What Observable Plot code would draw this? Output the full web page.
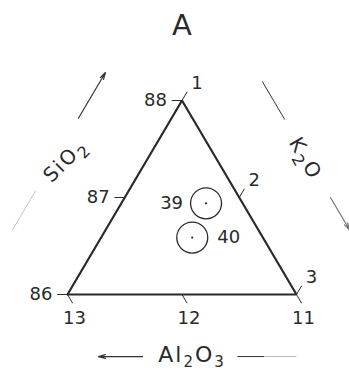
<!DOCTYPE html>
<html><head><meta charset="utf-8">
<script src="https://cdn.jsdelivr.net/npm/d3@7"></script>
<script src="https://cdn.jsdelivr.net/npm/@observablehq/plot@0.6"></script>
<style>
body{margin:0;background:#fff;}
#chart svg{display:block;}
</style></head><body><div id="chart"></div>
<script>
// ---- data ----
const title = "A";
const samples = ["39", "40"];
const sio2 = [86.94, 86.59];
const k2o = [1.74, 1.80];
const al2o3 = [11.32, 11.62];
const sio2Ticks = [86, 87, 88];
const k2oTicks = [1, 2, 3];
const al2o3Ticks = [11, 12, 13];
const sio2Range = [86, 88];
const k2oRange = [1, 3];
const al2o3Range = [11, 13];
const axisNames = {si: "SiO2", k: "K2O", al: "Al2O3"};

// ---- ternary helpers ----
const H = Math.sqrt(3) / 2;
function xy(si, k, al) {
  let a = (si - sio2Range[0]) / (sio2Range[1] - sio2Range[0]);
  let b = (k - k2oRange[0]) / (k2oRange[1] - k2oRange[0]);
  let c = (al - al2o3Range[0]) / (al2o3Range[1] - al2o3Range[0]);
  const s = a + b + c; a /= s; b /= s; c /= s;
  return [0.5 * a + b, H * a];
}
const BL = xy(sio2Range[0], k2oRange[0], al2o3Range[1]);
const TOP = xy(sio2Range[1], k2oRange[0], al2o3Range[0]);
const BR = xy(sio2Range[0], k2oRange[1], al2o3Range[0]);
function edge(p0, p1, outward) {
  const L = Math.hypot(p1[0]-p0[0], p1[1]-p0[1]);
  const u = [(p1[0]-p0[0])/L, (p1[1]-p0[1])/L];
  const n = outward ? [-u[1], u[0]] : [u[1], -u[0]];
  return (t, d) => [p0[0] + t*L*u[0] + d*n[0], p0[1] + t*L*u[1] + d*n[1]];
}
const leftEdge = edge(BL, TOP, true);
const rightEdge = edge(TOP, BR, true);
const bottomEdge = edge(BL, BR, false);

const points = samples.map((s, i) => {
  const [x, y] = xy(sio2[i], k2o[i], al2o3[i]);
  return {name: s, x, y};
});

const TL = 0.045;
const ticks = [
  ...sio2Ticks.map(v => { const p = xy(v, k2oRange[0], 100 - v - k2oRange[0]);
    return {axis: "si", v, x1: p[0], y1: p[1], x2: p[0] - TL, y2: p[1]}; }),
  ...k2oTicks.map(v => { const p = xy(100 - v - al2o3Range[0], v, al2o3Range[0]);
    return {axis: "k", v, x1: p[0], y1: p[1], x2: p[0] + TL*0.5, y2: p[1] + TL*H}; }),
  ...al2o3Ticks.map(v => { const p = xy(sio2Range[0], 100 - v - sio2Range[0], v);
    return {axis: "al", v, x1: p[0], y1: p[1], x2: p[0] + TL*0.5, y2: p[1] - TL*H}; })
];
const tickStyle = {si: {dx: -15, dy: 0, anchor: "end"}, k: {dx: 15, dy: -17, anchor: "middle"}, al: {dx: 7, dy: 24, anchor: "middle"}};

const seg = (f, t0, t1, d) => { const a = f(t0, d), b = f(t1, d); return {x1: a[0], y1: a[1], x2: b[0], y2: b[1]}; };
const plainLines = [
  {...seg(leftEdge, 0.128, 0.332, 0.352), c: "#c4c4c4"},
  {...seg(rightEdge, 0.102, 0.298, 0.346), c: "#333"},
  {...seg(bottomEdge, 0.742, 0.86, 0.277), c: "#333"},
  {...seg(bottomEdge, 0.86, 1.0, 0.277), c: "#bbb"}
];
const arrows = [
  {...seg(leftEdge, 0.705, 0.941, 0.352), c: "#333"},
  {...seg(rightEdge, 0.699, 0.866, 0.345), c: "#777"},
  {...seg(bottomEdge, 0.328, 0.135, 0.277), c: "#333"}
];
const siL = leftEdge(0.513, 0.307), kL = rightEdge(0.494, 0.337), alL = bottomEdge(0.544, 0.272);
const labelSide = {"39": {dx: -23, anchor: "end"}, "40": {dx: 25, anchor: "start"}};
const ink = "#2a2a2a";
const font = "DejaVu Sans";

const plot = Plot.plot({
  width: 349, height: 373,
  marginLeft: 67, marginRight: 53, marginTop: 100, marginBottom: 79,
  x: {domain: [0, 1], axis: null},
  y: {domain: [0, H], axis: null},
  style: {fontFamily: font, background: "#fff", color: ink},
  marks: [
    Plot.line([BL, TOP, BR, BL], {x: d => d[0], y: d => d[1], stroke: ink, strokeWidth: 2.2, strokeLinejoin: "miter"}),
    Plot.link(ticks, {x1: "x1", y1: "y1", x2: "x2", y2: "y2", stroke: ink, strokeWidth: 1}),
    ...["si", "k", "al"].map(a => Plot.text(ticks.filter(t => t.axis === a), {
      x: "x1", y: "y1", text: d => String(d.v), dx: tickStyle[a].dx, dy: tickStyle[a].dy,
      textAnchor: tickStyle[a].anchor, fontSize: 18, fill: ink})),
    Plot.dot(points, {x: "x", y: "y", r: 15.5, stroke: ink, strokeWidth: 1.3, fill: "none"}),
    Plot.dot(points, {x: "x", y: "y", r: 1.1, fill: ink}),
    ...samples.map(s => Plot.text(points.filter(p => p.name === s), {
      x: "x", y: "y", text: "name", dx: labelSide[s].dx, textAnchor: labelSide[s].anchor, fontSize: 18, fill: ink})),
    Plot.link(plainLines, {x1: "x1", y1: "y1", x2: "x2", y2: "y2", stroke: "c", strokeWidth: 1}),
    Plot.arrow(arrows, {x1: "x1", y1: "y1", x2: "x2", y2: "y2", stroke: "c", strokeWidth: 1.2, headLength: 9, headAngle: 30, bend: 0}),
    Plot.text([title], {x: TOP[0], y: TOP[1], text: d => d, dy: -75, fontSize: 29, fill: ink}),
    Plot.text([axisNames.si], {x: siL[0], y: siL[1], text: d => d, rotate: -45, fontSize: 20, fill: ink}),
    Plot.text([axisNames.k], {x: kL[0], y: kL[1], text: d => d, rotate: 60, fontSize: 20, fill: ink}),
    Plot.text([axisNames.al], {x: alL[0], y: alL[1], text: d => d, fontSize: 22, fill: ink})
  ]
});
// subscripts for chemical formulas
const subs = {
  "SiO2": [["SiO", 0, null], ["2", 6, 16]],
  "K2O": [["K", 0, null], ["2", 6, 16], ["O", -6, null]],
  "Al2O3": [["Al", 0, null], ["2", 5, 15], ["O", -5, null], ["3", 5, 15]]
};
d3.select(plot).selectAll("text").each(function() {
  const t = this.textContent;
  if (!subs[t]) return;
  const el = d3.select(this);
  el.text(null).style("letter-spacing", "2px");
  for (const [s, dy, fs] of subs[t]) {
    const ts = el.append("tspan").text(s);
    if (dy) ts.attr("dy", dy);
    if (fs) ts.attr("font-size", fs);
  }
});
document.getElementById("chart").append(plot);
</script></body></html>
